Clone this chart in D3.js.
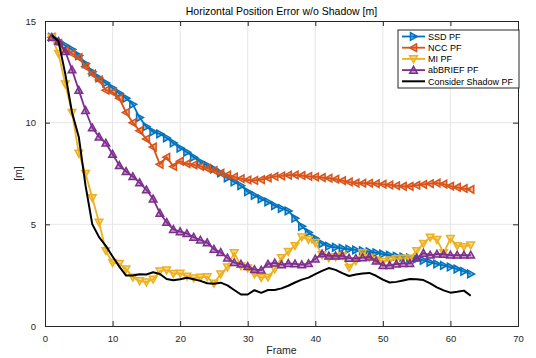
<!DOCTYPE html>
<html><head><meta charset="utf-8">
<script src="https://cdn.jsdelivr.net/npm/d3@7"></script>
<style>body{margin:0;background:#fff}svg{display:block}text{font-family:"Liberation Sans",Arial,sans-serif}</style>
</head><body><svg id="c" width="536" height="358"></svg>
<script>
const title = "Horizontal Position Error w/o Shadow [m]";
const xLabel = "Frame";
const yLabel = "[m]";
const xTicks = [0,10,20,30,40,50,60,70];
const yTicks = [0,5,10,15];
const seriesNames = ["SSD PF","NCC PF","MI PF","abBRIEF PF","Consider Shadow PF"];
const frames = d3.range(1,64);
const ssd = [14.2,14.0,13.8,13.6,13.3,12.9,12.5,12.2,11.95,11.7,11.45,11.2,10.9,10.25,9.8,9.55,9.45,9.25,9.0,8.75,8.55,8.3,8.07,7.9,7.72,7.53,7.28,7.08,6.9,6.6,6.42,6.25,6.1,5.92,5.78,5.66,5.3,4.9,4.6,4.3,4.05,3.92,3.87,3.82,3.78,3.74,3.7,3.65,3.6,3.54,3.48,3.43,3.39,3.35,3.3,3.23,3.13,3.05,2.98,2.9,2.8,2.68,2.56];
const ncc = [14.2,13.9,13.55,13.4,13.2,12.75,12.4,12.1,11.6,11.5,11.2,10.5,10.0,9.6,9.2,8.8,7.95,8.3,7.85,8.1,7.98,7.92,7.85,7.75,7.65,7.52,7.43,7.33,7.25,7.18,7.16,7.2,7.28,7.35,7.38,7.42,7.43,7.4,7.36,7.33,7.3,7.27,7.22,7.15,7.08,7.03,7.02,7.02,7.0,6.97,6.94,6.9,6.87,6.87,6.92,6.96,7.0,7.03,6.98,6.88,6.82,6.76,6.72];
const mi = [14.2,13.4,11.9,10.5,8.5,7.5,6.3,5.1,3.7,3.12,3.07,2.8,2.4,2.22,2.16,2.3,2.7,2.75,2.58,2.59,2.45,2.36,2.39,2.42,2.1,2.55,2.9,3.6,2.95,2.85,2.55,2.38,2.4,2.8,3.35,3.66,3.95,4.38,4.25,4.1,3.5,3.35,3.4,3.47,2.88,3.2,3.6,3.36,3.25,3.17,3.24,3.3,3.33,3.33,3.7,4.06,4.36,4.25,3.6,4.3,3.95,3.9,3.98];
const brief = [14.2,14.0,13.5,12.6,11.6,10.6,9.75,9.3,9.0,8.45,7.9,7.6,7.35,7.05,6.7,6.25,5.55,5.1,4.75,4.64,4.55,4.37,4.23,4.1,3.78,3.62,3.35,3.12,3.05,2.93,2.78,2.75,3.05,3.1,3.02,3.08,3.06,3.02,3.07,3.3,3.55,3.45,3.45,3.46,3.34,3.33,3.36,3.4,3.2,2.98,2.98,3.05,3.08,3.08,3.35,3.58,3.49,3.54,3.53,3.49,3.49,3.49,3.49];
const shadow = [14.3,14.0,12.4,10.5,9.3,6.9,5.0,4.37,3.94,3.42,2.92,2.48,2.48,2.55,2.53,2.64,2.56,2.31,2.25,2.3,2.37,2.3,2.22,2.1,2.08,2.13,2.0,1.77,1.55,1.55,1.76,1.63,1.77,1.77,1.85,1.98,2.14,2.28,2.38,2.55,2.71,2.85,2.76,2.6,2.46,2.53,2.58,2.61,2.47,2.28,2.14,2.17,2.24,2.31,2.3,2.26,2.1,1.9,1.75,1.64,1.68,1.74,1.49];
const colors = ["#0072BD","#D95319","#EDB120","#7E2F8E","#000000"];
const markers = ["right","left","down","up",null];

const svg = d3.select("#c");
const m = {l:45,r:518,t:21,b:326};
const x = d3.scaleLinear().domain([0,70]).range([m.l,m.r]);
const y = d3.scaleLinear().domain([0,15]).range([m.b,m.t]);
const axisCol = "#262626";

svg.append("g").selectAll("line").data(xTicks.slice(1,-1)).join("line")
  .attr("x1",d=>x(d)).attr("x2",d=>x(d)).attr("y1",m.t).attr("y2",m.b)
  .attr("stroke","#e6e6e6").attr("stroke-width",1);
svg.append("g").selectAll("line").data(yTicks.slice(1,-1)).join("line")
  .attr("y1",d=>y(d)).attr("y2",d=>y(d)).attr("x1",m.l).attr("x2",m.r)
  .attr("stroke","#e6e6e6").attr("stroke-width",1);

const gx = svg.append("g").attr("transform",`translate(0,${m.b})`)
  .call(d3.axisBottom(x).tickValues(xTicks).tickSize(-5).tickPadding(9).tickFormat(d3.format("d")));
const gxt = svg.append("g").attr("transform",`translate(0,${m.t})`)
  .call(d3.axisTop(x).tickValues(xTicks).tickSize(-5).tickFormat(""));
const gy = svg.append("g").attr("transform",`translate(${m.l},0)`)
  .call(d3.axisLeft(y).tickValues(yTicks).tickSize(-5).tickPadding(9).tickFormat(d3.format("d")));
const gyr = svg.append("g").attr("transform",`translate(${m.r},0)`)
  .call(d3.axisRight(y).tickValues(yTicks).tickSize(-5).tickFormat(""));
[gx,gxt,gy,gyr].forEach(g=>{
  g.select(".domain").attr("stroke",axisCol).attr("stroke-width",1);
  g.selectAll(".tick line").attr("stroke",axisCol);
  g.selectAll("text").attr("fill",axisCol).attr("font-size",9.5).attr("font-family","Liberation Sans, Arial, sans-serif");
});

svg.append("text").attr("x",(m.l+m.r)/2).attr("y",15).attr("text-anchor","middle")
  .attr("font-size",10.5).attr("fill","#000").text(title);
svg.append("text").attr("x",(m.l+m.r)/2).attr("y",354).attr("text-anchor","middle")
  .attr("font-size",10.5).attr("fill",axisCol).text(xLabel);
svg.append("text").attr("transform",`translate(22,${(m.t+m.b)/2}) rotate(-90)`).attr("text-anchor","middle")
  .attr("font-size",10.5).attr("fill",axisCol).text(yLabel);

function tri(dir,s){
  const h=s;
  if(dir==="right") return `M${-h*0.8},${-h}L${h},0L${-h*0.8},${h}Z`;
  if(dir==="left") return `M${h*0.8},${-h}L${-h},0L${h*0.8},${h}Z`;
  if(dir==="down") return `M${-h},${-h*0.8}L${h},${-h*0.8}L0,${h}Z`;
  return `M${-h},${h*0.8}L${h},${h*0.8}L0,${-h}Z`;
}
const all = [ssd,ncc,mi,brief,shadow];
const line = d3.line().x((d,i)=>x(frames[i])).y(d=>y(d));
const plot = svg.append("g");
all.forEach((vals,k)=>{
  const g = plot.append("g");
  g.append("path").datum(vals).attr("d",line).attr("fill","none")
    .attr("stroke",colors[k]).attr("stroke-width",k===4?2:1.8).attr("stroke-linejoin","round");
  if(markers[k]){
    g.selectAll("path.mk").data(vals).join("path").attr("class","mk")
      .attr("transform",(d,i)=>`translate(${x(frames[i])},${y(d)})`)
      .attr("d",tri(markers[k],3.8)).attr("fill",colors[k]).attr("fill-opacity",0.45)
      .attr("stroke",colors[k]).attr("stroke-width",1.5);
  }
});

const lg = svg.append("g");
lg.append("rect").attr("x",398).attr("y",30).attr("width",121).attr("height",58)
  .attr("fill","#fff").attr("stroke",axisCol).attr("stroke-width",1);
seriesNames.forEach((n,k)=>{
  const yy = 36.5 + k*11.2;
  lg.append("line").attr("x1",402).attr("x2",425).attr("y1",yy).attr("y2",yy)
    .attr("stroke",colors[k]).attr("stroke-width",k===4?2:1.8);
  if(markers[k]) lg.append("path").attr("transform",`translate(413.5,${yy})`).attr("d",tri(markers[k],3.8))
    .attr("fill",colors[k]).attr("fill-opacity",0.45).attr("stroke",colors[k]).attr("stroke-width",1.5);
  lg.append("text").attr("x",428).attr("y",yy+3.3).attr("font-size",9).attr("fill","#000").text(n);
});
</script></body></html>
